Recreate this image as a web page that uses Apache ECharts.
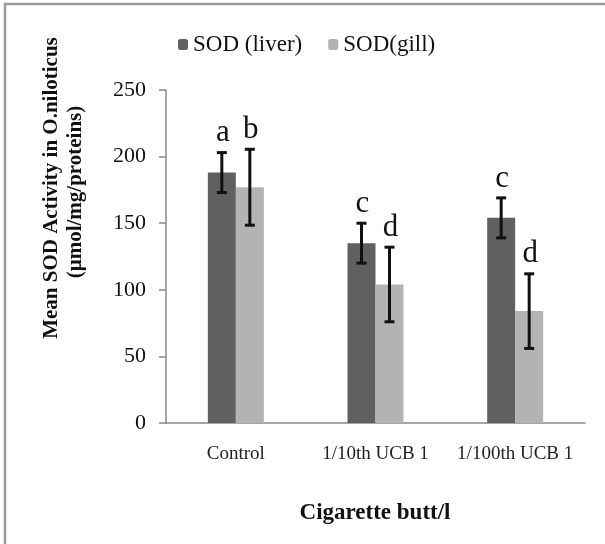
<!DOCTYPE html>
<html><head><meta charset="utf-8">
<script src="https://cdn.jsdelivr.net/npm/echarts@6/dist/echarts.min.js"></script>
<style>html,body{margin:0;padding:0;background:#fff}#c{width:605px;height:544px}</style>
</head><body><div id="c"></div>
<script>
const categories = ['Control', '1/10th UCB 1', '1/100th UCB 1'];
const liverMean = [188, 135, 154];
const liverErr = [15, 15, 15];
const gillMean = [177, 104, 84];
const gillErr = [28.5, 28, 28];
const liverLetters = ['a', 'c', 'c'];
const gillLetters = ['b', 'd', 'd'];
const yTicks = [0, 50, 100, 150, 200, 250];

const FAM = '"Liberation Serif", "Times New Roman", serif';
const BAR_W = 28;

function errSeries(means, errs, letters, offset) {
  const data = means.map((m, i) => [i, m - errs[i], m + errs[i], letters[i]]);
  return {
    type: 'custom',
    z: 10,
    data: data,
    renderItem: function (params, api) {
      const i = api.value(0);
      const lo = api.coord([i, api.value(1)]);
      const hi = api.coord([i, api.value(2)]);
      const x = lo[0] + offset;
      const cap = 5;
      const style = { stroke: '#111', lineWidth: 3 };
      return {
        type: 'group',
        children: [
          { type: 'line', shape: { x1: x, y1: hi[1], x2: x, y2: lo[1] }, style: style },
          { type: 'line', shape: { x1: x - cap, y1: hi[1], x2: x + cap, y2: hi[1] }, style: style },
          { type: 'line', shape: { x1: x - cap, y1: lo[1], x2: x + cap, y2: lo[1] }, style: style },
          { type: 'text', style: { x: x + 1, y: hi[1] - 4, text: letters[i], fill: '#111', fontFamily: FAM, fontSize: 31, align: 'center', verticalAlign: 'bottom' } }
        ]
      };
    }
  };
}

const legendText = { fontFamily: FAM, fontSize: 23, color: '#111' };

const chart = echarts.init(document.getElementById('c'));
chart.setOption({
  animation: false,
  backgroundColor: '#fff',
  textStyle: { fontFamily: FAM },
  grid: { left: 166, right: 20, top: 90, bottom: 121, containLabel: false },
  legend: {
    left: 173, top: 28,
    itemWidth: 10, itemHeight: 11, itemGap: 26,
    textStyle: legendText,
    data: ['SOD (liver)', 'SOD(gill)']
  },
  xAxis: {
    type: 'category',
    data: categories,
    axisLine: { lineStyle: { color: '#888', width: 1.5 } },
    axisTick: { show: false },
    axisLabel: { fontFamily: FAM, fontSize: 19, color: '#222', margin: 22, interval: 0 }
  },
  yAxis: {
    type: 'value', min: 0, max: 250, interval: 50,
    axisLine: { show: true, lineStyle: { color: '#888', width: 1.5 } },
    axisTick: { show: true, length: 7, lineStyle: { color: '#888', width: 1.5 } },
    splitLine: { show: false },
    axisLabel: { fontFamily: FAM, fontSize: 22, color: '#111', margin: 20,
      formatter: v => yTicks.includes(v) ? String(v) : '' }
  },
  graphic: [
    { type: 'polyline', shape: { points: [[5, 544], [5, 4], [605, 4]] }, style: { stroke: '#999', lineWidth: 2.5, fill: null } },
    { type: 'text', x: 52, y: 188, rotation: Math.PI / 2,
      style: { text: 'Mean SOD Activity in O.niloticus', fontFamily: FAM, fontWeight: 'bold', fontSize: 21, fill: '#111', align: 'center', verticalAlign: 'middle' } },
    { type: 'text', x: 76, y: 192, rotation: Math.PI / 2,
      style: { text: '(μmol/mg/proteins)', fontFamily: FAM, fontWeight: 'bold', fontSize: 21, fill: '#111', align: 'center', verticalAlign: 'middle' } },
    { type: 'text', x: 375, y: 513,
      style: { text: 'Cigarette butt/l', fontFamily: FAM, fontWeight: 'bold', fontSize: 23, fill: '#111', align: 'center', verticalAlign: 'middle' } }
  ],
  series: [
    { name: 'SOD (liver)', type: 'bar', data: liverMean, barWidth: BAR_W, barGap: '0%', itemStyle: { color: '#606060' } },
    { name: 'SOD(gill)', type: 'bar', data: gillMean, barWidth: BAR_W, barGap: '0%', itemStyle: { color: '#b3b3b3' } },
    errSeries(liverMean, liverErr, liverLetters, -BAR_W / 2),
    errSeries(gillMean, gillErr, gillLetters, BAR_W / 2)
  ]
});
</script></body></html>
